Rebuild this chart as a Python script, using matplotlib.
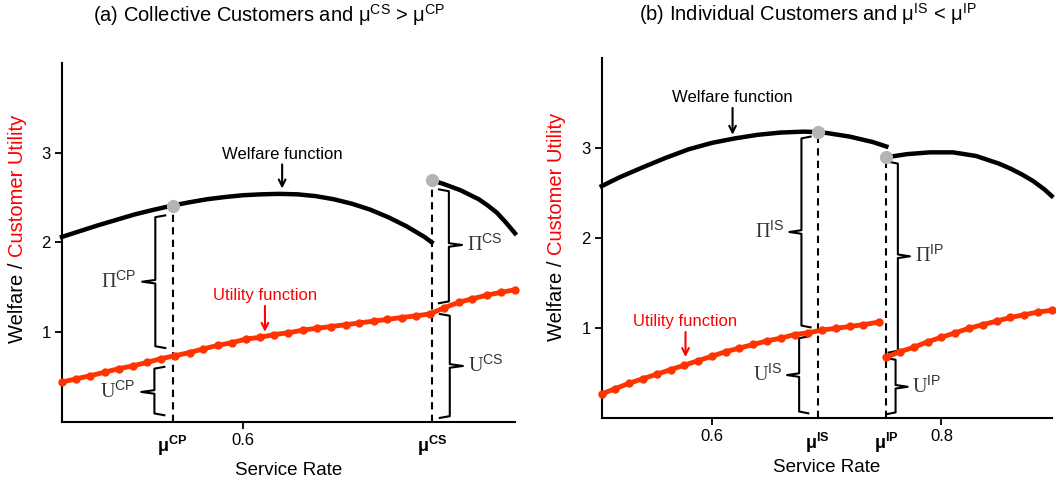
import matplotlib
matplotlib.use("agg")
import matplotlib.pyplot as plt
from matplotlib import rcParams

rcParams['font.family'] = 'Liberation Sans'
rcParams['mathtext.fontset'] = 'custom'
rcParams['mathtext.rm'] = 'Liberation Sans'
rcParams['mathtext.bf'] = 'Liberation Sans:bold'
rcParams['mathtext.it'] = 'Liberation Sans:italic'
rcParams['axes.linewidth'] = 1.5
rcParams['xtick.labelsize'] = 12
rcParams['ytick.labelsize'] = 12

RED = '#ff3300'
GREY = '#b4b4b4'

# ---- panel (a): collective customers ----
a_mu = [0.522, 0.808]          # mu_CP, mu_CS
a_w1_x = [0.40, 0.42, 0.44, 0.46, 0.48, 0.50, 0.522, 0.54, 0.56, 0.58, 0.60,
          0.62, 0.64, 0.66, 0.68, 0.70, 0.72, 0.74, 0.76, 0.78, 0.80, 0.808]
a_w1_y = [2.06, 2.125, 2.19, 2.25, 2.31, 2.36, 2.41, 2.445, 2.48, 2.505, 2.525,
          2.535, 2.54, 2.535, 2.515, 2.48, 2.43, 2.365, 2.28, 2.18, 2.06, 2.00]
a_w2_x = [0.808, 0.82, 0.84, 0.86, 0.87, 0.88, 0.89, 0.90]
a_w2_y = [2.69, 2.655, 2.58, 2.48, 2.41, 2.33, 2.22, 2.10]
a_dots = [2.41, 2.69]
a_u_x = [0.400, 0.416, 0.431, 0.447, 0.463, 0.478, 0.494, 0.509, 0.525, 0.541, 0.556,
         0.572, 0.588, 0.603, 0.619, 0.634, 0.650, 0.666, 0.681, 0.697, 0.713, 0.728,
         0.744, 0.759, 0.775, 0.791, 0.806, 0.822, 0.838, 0.853, 0.869, 0.884, 0.900]
a_u_y = [0.44, 0.477, 0.51, 0.55, 0.59, 0.62, 0.66, 0.70, 0.735, 0.77, 0.81,
         0.85, 0.88, 0.92, 0.94, 0.97, 0.99, 1.02, 1.04, 1.06, 1.08, 1.10,
         1.12, 1.14, 1.16, 1.18, 1.20, 1.27, 1.33, 1.37, 1.41, 1.44, 1.47]
# braces: x, low, high, middle, side (-1 notch left, +1 notch right)
a_br_x = [0.503, 0.502, 0.827, 0.828]
a_br_lo = [0.82, 0.07, 1.32, 0.04]
a_br_hi = [2.30, 0.61, 2.59, 1.20]
a_br_mid = [1.56, 0.33, 1.97, 0.62]
a_br_side = [-1, -1, 1, 1]
a_br_lab = ['Π', 'U', 'Π', 'U']
a_br_sup = ['CP', 'CP', 'CS', 'CS']

# ---- panel (b): individual customers ----
b_mu = [0.692, 0.752]          # mu_IS, mu_IP
b_w1_x = [0.504, 0.52, 0.54, 0.56, 0.58, 0.60, 0.62, 0.64, 0.66, 0.68, 0.692,
          0.70, 0.72, 0.74, 0.752]
b_w1_y = [2.58, 2.68, 2.79, 2.895, 2.99, 3.06, 3.11, 3.15, 3.175, 3.185, 3.18,
          3.17, 3.13, 3.07, 3.02]
b_w2_x = [0.752, 0.77, 0.79, 0.81, 0.83, 0.85, 0.86, 0.87, 0.88, 0.89, 0.896]
b_w2_y = [2.90, 2.935, 2.955, 2.955, 2.915, 2.83, 2.775, 2.71, 2.635, 2.54, 2.47]
b_dots = [3.18, 2.90]
b_u1_x = [0.504, 0.516, 0.528, 0.540, 0.552, 0.564, 0.576, 0.588, 0.600, 0.612, 0.624,
          0.636, 0.648, 0.660, 0.672, 0.684, 0.696, 0.708, 0.720, 0.732, 0.746]
b_u1_y = [0.27, 0.33, 0.39, 0.44, 0.49, 0.54, 0.59, 0.64, 0.69, 0.74, 0.78,
          0.82, 0.86, 0.89, 0.93, 0.95, 0.98, 1.00, 1.02, 1.04, 1.07]
b_u2_x = [0.752, 0.764, 0.776, 0.788, 0.800, 0.812, 0.824, 0.836, 0.848, 0.860, 0.872, 0.884, 0.896]
b_u2_y = [0.68, 0.74, 0.79, 0.85, 0.90, 0.95, 1.00, 1.04, 1.08, 1.12, 1.15, 1.18, 1.20]
b_br_x = [0.678, 0.676, 0.762, 0.760]
b_br_lo = [1.01, 0.055, 0.73, 0.045]
b_br_hi = [3.13, 0.91, 2.85, 0.67]
b_br_mid = [2.07, 0.48, 1.80, 0.35]
b_br_side = [-1, -1, 1, 1]
b_br_lab = ['Π', 'U', 'Π', 'U']
b_br_sup = ['IS', 'IS', 'IP', 'IP']


def brace(ax, x, lo, hi, mid, side, hook, notch, lab, sup):
    c = 0.02
    xs = [x - side * hook, x, x, x + side * notch, x, x, x - side * hook]
    ys = [hi, hi - c, mid + c, mid, mid - c, lo + c, lo]
    ax.plot(xs, ys, color='black', lw=1.5)
    gap = notch * 0.4
    ax.text(x + side * (notch + gap), mid, lab + '$^{\\mathrm{' + sup + '}}$',
            family='Liberation Serif', fontsize=14.5, color='#333333',
            ha='left' if side > 0 else 'right', va='center')


def panel(ax, xlim, mu, mu_labels, w1x, w1y, w2x, w2y, dots, ux_list, uy_list,
          brx, brlo, brhi, brmid, brside, brlab, brsup, hook, notch, xt):
    ax.set_xlim(xlim)
    ax.set_ylim(0, 4)
    for s in ['top', 'right']:
        ax.spines[s].set_visible(False)
    ax.set_yticks([1, 2, 3])
    ax.set_xticks(xt)
    ax.set_xticks(mu, labels=mu_labels, minor=True)
    ax.tick_params(axis='both', which='major', length=5, width=1.3, pad=3)
    ax.tick_params(axis='x', which='minor', length=0, pad=9, labelsize=13)

    for ux, uy in zip(ux_list, uy_list):
        ax.plot(ux, uy, color=RED, lw=3.5, marker='o', ms=5, zorder=3, clip_on=False)
    ax.plot(w1x, w1y, color='black', lw=3.2, zorder=4, clip_on=False)
    ax.plot(w2x, w2y, color='black', lw=3.2, zorder=4, clip_on=False)
    for m, d in zip(mu, dots):
        ax.plot([m, m], [0, d], color='black', lw=1.5, ls=(0, (3.5, 2.5)), zorder=2)
        ax.plot([m], [d], 'o', color=GREY, ms=8.5, zorder=5)
    for i in range(len(brx)):
        brace(ax, brx[i], brlo[i], brhi[i], brmid[i], brside[i], hook, notch,
              brlab[i], brsup[i])
    ax.set_xlabel('Service Rate', fontsize=13.5, labelpad=3)


fig = plt.figure(figsize=(10.56, 4.83), dpi=100)
ax1 = fig.add_axes([0.0587, 0.1273, 0.4290, 0.7422])
ax2 = fig.add_axes([0.5698, 0.1340, 0.4261, 0.7453])

panel(ax1, (0.4, 0.9), a_mu, ['$\\mathbf{μ^{CP}}$', '$\\mathbf{μ^{CS}}$'],
      a_w1_x, a_w1_y, a_w2_x, a_w2_y, a_dots, [a_u_x], [a_u_y],
      a_br_x, a_br_lo, a_br_hi, a_br_mid, a_br_side, a_br_lab, a_br_sup,
      0.011, 0.0145, [0.6])
panel(ax2, (0.504, 0.896), b_mu, ['$\\mathbf{μ^{IS}}$', '$\\mathbf{μ^{IP}}$'],
      b_w1_x, b_w1_y, b_w2_x, b_w2_y, b_dots, [b_u1_x, b_u2_x], [b_u1_y, b_u2_y],
      b_br_x, b_br_lo, b_br_hi, b_br_mid, b_br_side, b_br_lab, b_br_sup,
      0.008, 0.0105, [0.6, 0.8])

arrow_k = dict(arrowstyle='->', lw=1.5, shrinkA=0, shrinkB=0)
ax1.annotate('Welfare function', xy=(0.643, 2.60), xytext=(0.643, 2.90),
             ha='center', va='bottom', fontsize=12,
             arrowprops=dict(arrow_k, color='black'))
ax1.annotate('Utility function', xy=(0.624, 1.00), xytext=(0.624, 1.32),
             ha='center', va='bottom', fontsize=12, color='red',
             arrowprops=dict(arrow_k, color='red'))
ax2.annotate('Welfare function', xy=(0.618, 3.15), xytext=(0.618, 3.48),
             ha='center', va='bottom', fontsize=12,
             arrowprops=dict(arrow_k, color='black'))
ax2.annotate('Utility function', xy=(0.577, 0.68), xytext=(0.577, 0.99),
             ha='center', va='bottom', fontsize=12, color='red',
             arrowprops=dict(arrow_k, color='red'))

fig.text(0.2547, 0.968, '(a) Collective Customers and $\\mathrm{μ}^{\\mathrm{CS}}$ > $\\mathrm{μ}^{\\mathrm{CP}}$',
         ha='center', va='center', fontsize=14.5)
fig.text(0.765, 0.971, '(b) Individual Customers and $\\mathrm{μ}^{\\mathrm{IS}}$ < $\\mathrm{μ}^{\\mathrm{IP}}$',
         ha='center', va='center', fontsize=14.5)

# two-coloured y labels
for xl, yb in [(0.017, 0.290), (0.527, 0.294)]:
    t = fig.text(xl, yb, 'Welfare /', rotation=90, ha='center', va='bottom', fontsize=14.5)
    plt.gca().annotate('Customer Utility', xy=(0.5, 1.0), xycoords=t,
                       xytext=(0, 4), textcoords='offset points', rotation=90,
                       ha='center', va='bottom', fontsize=14.5, color='red',
                       annotation_clip=False)

fig.savefig('out.png', dpi=100)
